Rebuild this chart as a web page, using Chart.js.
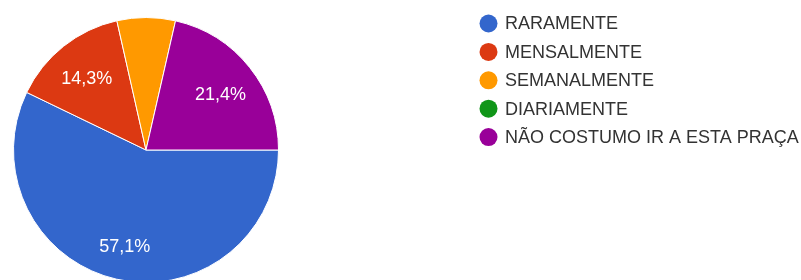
<!DOCTYPE html>
<html>
<head>
<meta charset="utf-8">
<script src="https://cdn.jsdelivr.net/npm/chart.js@4"></script>
<style>
  html, body { margin: 0; padding: 0; background: #fff; overflow: hidden; }
  #wrap { width: 801px; height: 300px; }
</style>
</head>
<body>
<div id="wrap"><canvas id="pieChart" width="801" height="300"></canvas></div>
<script>
// ====================
// Data
// ====================

const categories = [
  "RARAMENTE",
  "MENSALMENTE",
  "SEMANALMENTE",
  "DIARIAMENTE",
  "NÃO COSTUMO IR A ESTA PRAÇA",
];
const percentages = [57.1, 14.3, 7.1, 0, 21.4];
const sliceColors = ["#3366cc", "#dc3912", "#ff9900", "#109618", "#990099"];

const FONT = "'Liberation Sans', Arial, sans-serif";

// ====================
// Slice labels
// ====================

const sliceLabels = {
  id: "sliceLabels",
  afterDatasetsDraw(chart) {
    const ctx = chart.ctx;
    const meta = chart.getDatasetMeta(0);
    ctx.save();
    ctx.font = "18px " + FONT;
    ctx.fillStyle = "#ffffff";
    ctx.textAlign = "center";
    ctx.textBaseline = "middle";
    meta.data.forEach((arc, i) => {
      const v = percentages[i];
      if (v < 10) return;
      const p = arc.getProps(["x", "y", "startAngle", "endAngle", "outerRadius"], true);
      const mid = (p.startAngle + p.endAngle) / 2;
      const r = p.outerRadius * 0.72;
      ctx.fillText(v.toFixed(1).replace(".", ",") + "%", p.x + Math.cos(mid) * r, p.y + Math.sin(mid) * r + 4);
    });
    ctx.restore();
  },
};

// ====================
// Legend
// ====================

const sideLegend = {
  id: "sideLegend",
  afterDraw(chart) {
    const ctx = chart.ctx;
    ctx.save();
    ctx.font = "18px " + FONT;
    ctx.textBaseline = "middle";
    categories.forEach((name, i) => {
      const y = 23.5 + i * 28.4;
      ctx.beginPath();
      ctx.arc(488.5, y, 9, 0, Math.PI * 2);
      ctx.fillStyle = sliceColors[i];
      ctx.fill();
      ctx.fillStyle = "#333333";
      ctx.fillText(name, 505, y + 1);
    });
    ctx.restore();
  },
};

// ====================
// Pie Chart
// ====================

new Chart(document.getElementById("pieChart"), {
  type: "pie",

  data: {
    labels: categories,
    datasets: [
      {
        data: percentages,
        backgroundColor: sliceColors,
        borderColor: "#ffffff",
        borderWidth: 1,
        hoverOffset: 0,
      },
    ],
  },

  options: {
    responsive: false,
    animation: false,
    events: [],
    rotation: 90,
    layout: {
      padding: { top: 17, bottom: 17, left: 13, right: 522 },
    },
    plugins: {
      legend: { display: false },
      tooltip: { enabled: false },
    },
  },

  plugins: [sliceLabels, sideLegend],
});
</script>
</body>
</html>
